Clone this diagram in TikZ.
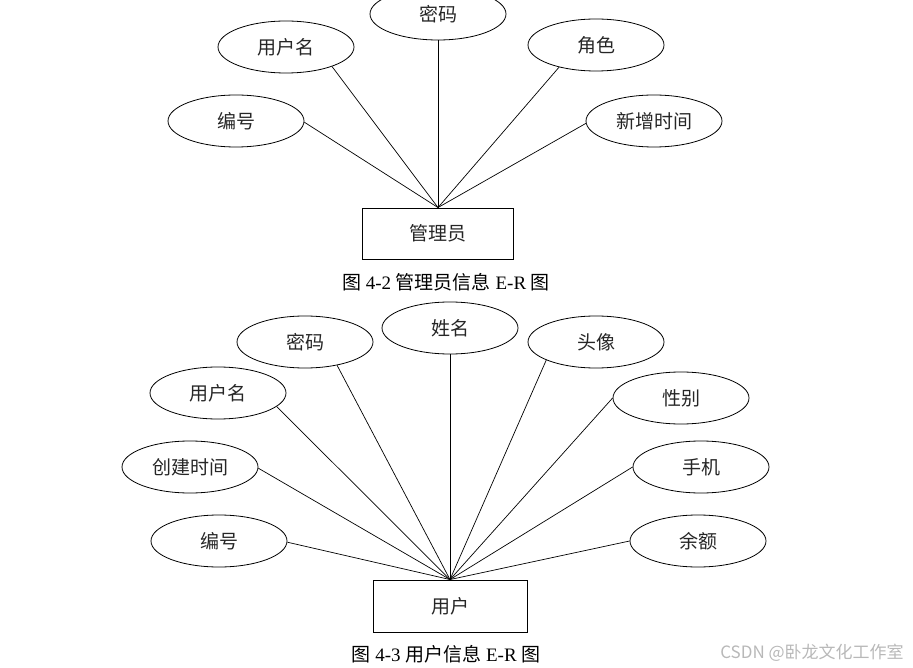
\documentclass[tikz,border=0pt]{standalone}
\usepackage{fontspec}
\setmainfont{Liberation Serif}
\newfontfamily\cjk{Noto Sans CJK SC}
\usetikzlibrary{shapes.geometric}
\begin{document}
\begin{tikzpicture}[x=1pt,y=-1pt,
  attr/.style={ellipse,draw,line width=0.8pt,minimum width=136pt,minimum height=52pt,inner sep=0pt,font=\cjk\fontsize{19}{19}\selectfont,text=black!85},
  ent/.style={rectangle,draw,line width=0.9pt,inner sep=0pt,font=\cjk\fontsize{19}{19}\selectfont,text=black!85},
  link/.style={line width=0.7pt},
  captext/.style={font=\fontsize{19}{19}\selectfont,inner sep=0pt},
  wm/.style={font=\cjk\fontsize{17}{17}\selectfont,text=black!28,inner sep=0pt}]
\useasboundingbox (0,0) rectangle (913,668);
% ---- top diagram ----
\node[ent,minimum width=151pt,minimum height=51pt] (adm) at (438,233.5) {管理员};
\node[attr] (a1) at (438,14) {密码};
\node[attr] (a2) at (286,47) {用户名};
\node[attr] (a3) at (596,45) {角色};
\node[attr] (a4) at (236,121) {编号};
\node[attr] (a5) at (654,121) {新增时间};
\draw[link] (a1.south) -- (adm.north);
\draw[link] (a2.-23.5) -- (adm.north);
\draw[link] (a3.-149) -- (adm.north);
\draw[link] (a4.-1) -- (adm.north);
\draw[link] (a5.182) -- (adm.north);
\node[captext] (c1) at (446,282) {{\cjk 图} 4-2 {\cjk 管理员信息} E-R {\cjk 图}};
% ---- bottom diagram ----
\node[ent,minimum width=154pt,minimum height=52pt] (usr) at (450,606) {用户};
\node[attr] (b1) at (450,328) {姓名};
\node[attr] (b2) at (305,342) {密码};
\node[attr] (b3) at (596,342) {头像};
\node[attr] (b4) at (218,393) {用户名};
\node[attr] (b5) at (681,398) {性别};
\node[attr] (b6) at (190,467) {创建时间};
\node[attr] (b7) at (701,467) {手机};
\node[attr] (b8) at (219,541) {编号};
\node[attr] (b9) at (698,541) {余额};
\draw[link] (b1.south) -- (usr.north);
\draw[link] (b2.-36) -- (usr.north);
\draw[link] (b3.-160) -- (usr.north);
\draw[link] (b4.-13) -- (usr.north);
\draw[link] (b5.180) -- (usr.north);
\draw[link] (b6.-1) -- (usr.north);
\draw[link] (b7.180) -- (usr.north);
\draw[link] (b8.-1) -- (usr.north);
\draw[link] (b9.180) -- (usr.north);
\node[captext] (c2) at (446,654) {{\cjk 图} 4-3 {\cjk 用户信息} E-R {\cjk 图}};
\node[wm] (w) at (812,653) {CSDN @卧龙文化工作室};
\end{tikzpicture}
\end{document}
